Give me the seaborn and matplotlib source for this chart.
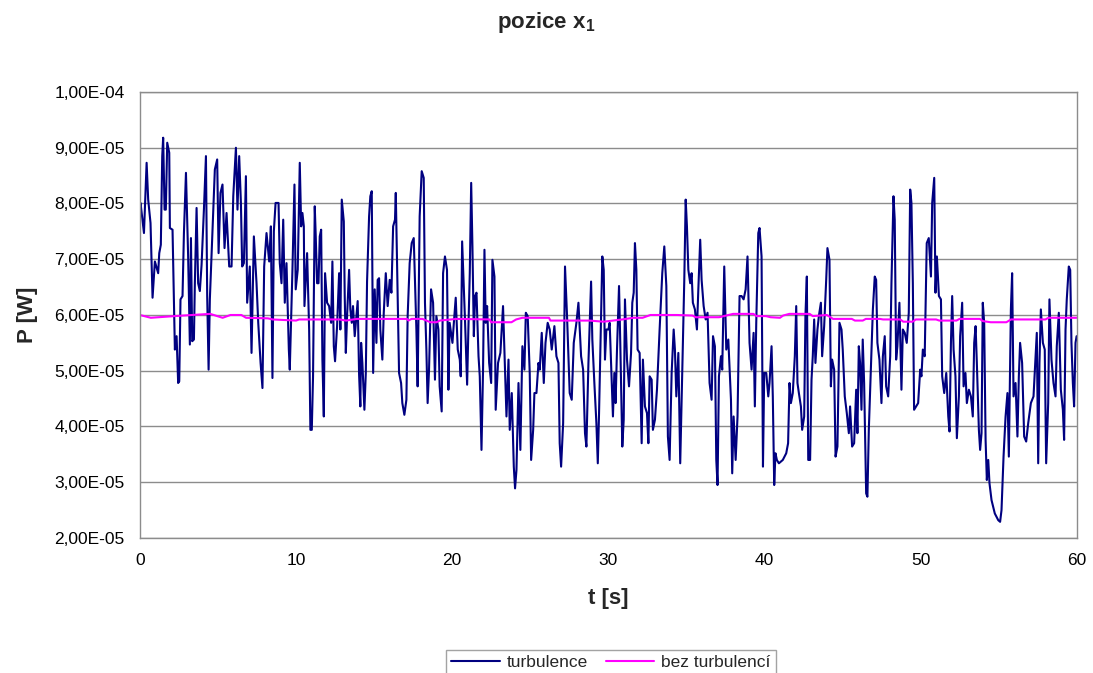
import numpy as np
import pandas as pd
import matplotlib
matplotlib.use("Agg")
import matplotlib.pyplot as plt
import seaborn as sns
from matplotlib.ticker import FuncFormatter, MultipleLocator

# turbulence series: time [s] and power in units of 1e-5 W
t_turb = [
    0.00, 0.04, 0.26, 0.43, 0.53, 0.68, 0.81, 0.96, 1.17, 1.24, 1.34, 1.43, 1.49, 1.58, 1.66, 1.75, 1.88, 1.92,
    2.09, 2.24, 2.35, 2.45, 2.52, 2.60, 2.73, 2.82, 2.95, 3.09, 3.20, 3.27, 3.35, 3.46, 3.52, 3.63, 3.73, 3.84,
    3.95, 4.10, 4.23, 4.31, 4.40, 4.48, 4.65, 4.80, 4.95, 5.04, 5.16, 5.29, 5.42, 5.55, 5.72, 5.87, 5.98, 6.15,
    6.25, 6.36, 6.47, 6.55, 6.66, 6.79, 6.87, 7.04, 7.15, 7.30, 7.47, 7.58, 7.73, 7.85, 7.96, 8.11, 8.28, 8.39,
    8.49, 8.58, 8.69, 8.88, 8.96, 9.07, 9.18, 9.28, 9.39, 9.54,
    9.60, 9.77, 9.90, 9.98, 10.11, 10.24, 10.33, 10.41, 10.50, 10.54, 10.71, 10.84, 10.92, 11.01, 11.09, 11.20,
    11.26, 11.35, 11.44, 11.52, 11.61, 11.69, 11.78, 11.86, 11.99, 12.12, 12.25, 12.33, 12.42, 12.50, 12.63,
    12.76, 12.84, 12.93, 13.06, 13.12, 13.19, 13.27, 13.40, 13.48, 13.57, 13.65, 13.76, 13.87, 13.95, 14.04,
    14.12, 14.17, 14.25, 14.38, 14.47, 14.55, 14.68, 14.76, 14.85, 14.94, 15.04, 15.15, 15.23, 15.32, 15.40,
    15.53, 15.62, 15.75, 15.87, 16.00, 16.11, 16.22, 16.34, 16.39, 16.47, 16.60, 16.73, 16.81, 16.94, 17.07,
    17.15, 17.28, 17.41, 17.54, 17.62, 17.71, 17.79, 17.92, 18.05, 18.18, 18.26, 18.35, 18.43, 18.52, 18.65,
    18.78, 18.90, 18.99, 19.12, 19.20, 19.33, 19.42, 19.54, 19.67, 19.76, 19.84,
    20.02, 20.11, 20.23, 20.36, 20.49, 20.55, 20.64, 20.75, 20.83, 20.96, 21.04, 21.13, 21.22, 21.30, 21.39,
    21.47, 21.56, 21.69, 21.77, 21.88, 21.98, 22.07, 22.15, 22.24, 22.37, 22.50, 22.58, 22.71, 22.79, 22.94,
    23.09, 23.26, 23.39, 23.48, 23.61, 23.69, 23.82, 23.95, 24.03, 24.12, 24.25, 24.37, 24.50, 24.63, 24.72,
    24.84, 24.97, 25.06, 25.19, 25.27, 25.40, 25.53, 25.61, 25.74, 25.87, 25.98, 26.12, 26.25, 26.38, 26.55,
    26.68, 26.81, 26.89, 26.98, 27.11, 27.23, 27.36, 27.53, 27.66, 27.79, 27.96, 28.09, 28.26, 28.39, 28.51,
    28.60, 28.73, 28.90, 28.98, 29.11, 29.24, 29.33, 29.41, 29.56, 29.62, 29.71, 29.79, 29.88, 30.01, 30.09,
    30.22, 30.30, 30.39, 30.47, 30.56, 30.69, 30.77, 30.90, 30.99, 31.07, 31.20, 31.33, 31.46, 31.54, 31.63,
    31.71, 31.80, 31.88, 32.01, 32.14, 32.22, 32.35, 32.48, 32.57, 32.65, 32.78, 32.86, 32.99, 33.12, 33.29,
    33.46, 33.59, 33.72, 33.82, 33.93, 34.06, 34.19, 34.27, 34.36, 34.49, 34.61, 34.74, 34.87, 34.96, 35.04,
    35.13, 35.25, 35.34, 35.42, 35.55, 35.68, 35.77, 35.89, 35.98, 36.11, 36.24, 36.36, 36.49, 36.62, 36.71,
    36.83, 36.92, 37.00, 37.09, 37.22, 37.30, 37.43, 37.56, 37.69, 37.86, 37.94, 38.03, 38.16, 38.28, 38.41,
    38.54, 38.67, 38.80, 38.92, 39.05, 39.18, 39.31, 39.39, 39.48, 39.61, 39.69, 39.82, 39.91, 39.99, 40.12,
    40.25, 40.33,
    40.46, 40.54, 40.63, 40.71, 40.80, 40.93, 41.18, 41.40, 41.52, 41.61, 41.70, 41.82, 41.95, 42.04, 42.12,
    42.21, 42.34, 42.42, 42.55, 42.63, 42.72, 42.81, 42.93, 43.02, 43.10, 43.19, 43.27, 43.40, 43.49, 43.62,
    43.70, 43.83, 43.96, 44.04, 44.17, 44.26, 44.34, 44.47, 44.56, 44.68, 44.81, 44.94, 45.02, 45.15, 45.28,
    45.41, 45.49, 45.62, 45.75, 45.88, 45.96, 46.05, 46.13, 46.22, 46.30, 46.39, 46.52, 46.60, 46.69, 46.82,
    46.95, 47.07, 47.16, 47.24, 47.37, 47.50, 47.59, 47.71, 47.80, 47.93, 48.06, 48.14, 48.27, 48.35, 48.44,
    48.52, 48.65, 48.78, 48.87, 48.99, 49.12, 49.25, 49.34, 49.42, 49.51, 49.59, 49.72, 49.85, 49.98, 50.06,
    50.15, 50.27, 50.40, 50.53,
    50.67, 50.75, 50.88, 50.96, 51.05, 51.18, 51.31, 51.39, 51.52, 51.65, 51.78, 51.86, 51.95, 52.03, 52.12,
    52.24, 52.33, 52.46, 52.54, 52.67, 52.76, 52.88, 52.97, 53.10, 53.23, 53.35, 53.44, 53.53, 53.61, 53.74,
    53.82, 53.91, 53.99, 54.08, 54.17, 54.25, 54.34, 54.42, 54.55, 54.76, 54.98, 55.10, 55.19, 55.32, 55.45,
    55.57, 55.66, 55.79, 55.87, 55.96, 56.09, 56.21, 56.30, 56.38, 56.51, 56.64, 56.77, 56.90, 57.07, 57.24,
    57.37, 57.45, 57.54, 57.62, 57.71, 57.84, 57.96, 58.05, 58.18, 58.26, 58.39, 58.52, 58.65, 58.73, 58.86,
    58.99, 59.12, 59.20, 59.29, 59.37, 59.50, 59.59, 59.67, 59.76, 59.84, 59.93, 60.00,
]
p_turb_e5 = [
    7.95, 8.01, 7.47, 8.73, 8.07, 7.65, 6.31, 6.96, 6.75, 7.11, 7.26, 8.85, 9.18, 7.89, 7.89, 9.09, 8.91, 7.56,
    7.53, 5.38, 5.62, 4.78, 4.81, 6.28, 6.34, 7.47, 8.55, 7.05, 5.47, 7.38, 5.53, 5.56, 6.57, 7.92, 6.57, 6.43,
    6.90, 7.89, 8.85, 6.34, 5.02, 6.28, 7.53, 8.61, 8.79, 7.11, 8.19, 8.34, 7.20, 7.83, 6.87, 6.87, 8.13, 9.00,
    7.89, 8.85, 8.01, 6.87, 6.93, 8.49, 6.22, 6.87, 5.32, 7.41, 6.57, 5.86, 5.14, 4.69, 6.87, 7.47, 6.96, 7.59,
    4.87, 7.50, 8.01, 8.01, 6.93, 6.57, 7.71, 6.22, 6.93, 5.38,
    5.02, 6.81, 8.34, 6.46, 6.81, 8.73, 7.59, 7.83, 7.59, 6.16, 7.11, 5.74, 3.94, 3.94, 4.90, 7.95,
    7.44, 6.57, 6.57, 7.41, 7.53, 5.20, 4.18, 6.75, 6.22, 6.16, 5.86, 6.96, 5.44, 5.17, 5.80,
    6.75, 5.74, 8.07, 7.68, 6.34, 5.32, 5.98, 6.81, 6.10, 5.86, 6.16, 5.62, 5.98, 6.25, 4.93,
    4.36, 5.50, 5.14, 4.30, 4.96, 6.60, 7.77, 8.13, 8.22, 4.96, 6.46, 5.50, 6.63, 6.66, 5.74,
    5.20, 6.04, 6.75, 6.16, 6.63, 6.40, 7.59, 7.71, 8.19, 6.93, 4.96, 4.78, 4.42, 4.21, 4.48,
    5.98, 6.93, 7.29, 7.38, 6.63, 5.74, 4.72, 7.77, 8.58, 8.46, 6.22, 5.38, 4.42, 5.02, 6.46,
    6.22, 4.84, 5.98, 5.74, 4.72, 4.27, 6.75, 7.05, 6.81, 4.66, 5.86,
    5.50, 5.86, 6.31, 5.38, 5.20, 4.90, 7.32, 6.46, 5.86, 4.75, 5.74, 6.75, 8.37, 7.23, 5.62,
    6.34, 6.40, 5.26, 4.90, 3.58, 5.02, 7.17, 5.86, 6.16, 5.14, 4.78, 6.99, 6.69, 4.30, 5.14,
    5.32, 6.16, 5.02, 4.18, 5.20, 3.94, 4.60, 3.28, 2.89, 3.22, 4.78, 3.58, 5.44, 5.02, 6.04,
    5.98, 4.96, 3.40, 3.94, 4.60, 4.60, 5.14, 5.02, 5.68, 4.78, 5.50, 5.86, 5.74, 5.38, 5.80,
    5.26, 5.14, 3.70, 3.28, 4.06, 6.87, 5.98, 4.60, 4.48, 5.50, 5.86, 6.22, 5.26, 5.02, 3.88,
    3.64, 5.14, 6.60, 5.56, 4.78, 4.06, 3.34, 4.24, 6.22, 7.05, 6.81, 5.20, 5.74, 5.74, 5.86,
    4.84, 4.18, 4.96, 4.42, 5.38, 6.52, 5.50, 3.64, 4.12, 6.28, 5.20, 4.72, 5.32, 6.22, 6.40,
    7.29, 6.81, 5.38, 5.32, 3.70, 5.20, 4.36, 4.24, 3.70, 4.90, 4.84, 3.94, 4.12, 4.66, 5.74,
    6.75, 7.23, 6.52, 3.82, 3.40, 4.96, 5.74, 5.38, 4.54, 5.32, 3.34, 5.02, 6.63, 8.07, 7.59,
    6.81, 6.57, 6.75, 6.22, 6.10, 5.74, 6.46, 7.35, 6.63, 6.16, 5.92, 6.04, 4.78, 4.48, 5.62,
    5.44, 3.40, 2.95, 4.90, 5.26, 5.02, 6.87, 5.38, 5.56, 4.48, 3.16, 4.18, 3.40, 4.18, 6.34,
    6.34, 6.28, 6.46, 7.05, 5.50, 5.02, 5.68, 4.36, 5.86, 7.47, 7.56, 7.05, 3.28, 4.96, 4.96,
    4.54, 4.78,
    5.44, 4.54, 2.95, 3.52, 3.40, 3.34, 3.40, 3.52, 3.70, 4.78, 4.42, 4.60, 5.26, 6.16, 4.78,
    4.60, 4.36, 3.94, 4.18, 5.98, 6.69, 3.40, 3.40, 4.84, 5.26, 5.92, 5.14, 5.74, 5.98, 6.22,
    5.26, 5.80, 6.63, 7.20, 6.99, 4.72, 5.20, 5.02, 3.46, 3.64, 5.86, 5.74, 5.38, 4.54, 4.24,
    3.88, 4.36, 3.64, 3.70, 4.66, 3.88, 5.44, 5.14, 4.30, 5.56, 4.78, 2.80, 2.74, 3.94, 5.02,
    6.10, 6.69, 6.63, 5.50, 5.20, 4.42, 5.26, 5.62, 4.72, 4.54, 5.26, 6.57, 8.13, 7.71, 5.20,
    5.44, 6.22, 4.66, 5.74, 5.68, 5.50, 6.04, 8.25, 8.01, 6.57, 4.30, 4.36, 4.42, 5.02, 4.90,
    5.38, 5.26, 7.29, 7.38,
    6.69, 8.01, 8.46, 6.40, 7.05, 6.34, 6.28, 4.90, 4.60, 4.96, 4.18, 3.91, 5.50, 6.34, 5.38,
    4.90, 3.79, 4.54, 5.62, 6.22, 4.72, 4.96, 4.42, 4.66, 4.54, 4.18, 5.50, 5.80, 5.14, 3.94,
    3.58, 3.88, 6.22, 5.86, 3.76, 3.04, 3.40, 2.98, 2.68, 2.44, 2.32, 2.29, 2.50, 3.46, 4.18,
    4.60, 3.46, 6.10, 6.75, 4.54, 4.78, 3.82, 4.90, 5.50, 5.14, 3.82, 3.73, 4.06, 4.42, 4.54,
    5.26, 5.68, 3.34, 5.14, 6.10, 5.50, 5.38, 3.34, 4.42, 6.28, 5.20, 4.78, 4.54, 5.44, 6.04,
    4.66, 4.30, 3.76, 5.74, 6.28, 6.87, 6.81, 5.50, 4.78, 4.36, 5.50, 5.62,
]

# reference without turbulence (1e-5 W)
t_ref = [
    0.0, 0.7, 2.2, 4.5, 5.3, 5.8, 6.5, 6.8, 8.2, 8.5, 10.0, 10.2, 12.8, 13.2, 13.9, 17.1, 17.2, 17.4, 18.1, 18.6,
    19.0, 19.2, 20.3, 22.4, 22.5, 23.8, 24.1, 24.5, 26.2, 26.3, 28.8, 29.7, 30.3, 30.9, 31.6, 32.2, 32.7, 34.4,
    35.4, 35.6, 37.1, 37.4, 38.0, 39.3, 39.5, 40.1, 40.4, 41.0, 41.2, 41.6, 42.9, 43.1, 44.0, 44.4, 45.6, 45.8,
    46.3, 46.5, 47.4, 47.6, 48.7, 48.9, 49.5, 49.7, 51.0, 51.2, 52.3, 52.5, 53.8, 54.0, 54.5, 55.5, 55.8, 58.0,
    58.2, 60.0,
]
p_ref_e5 = [
    6.00, 5.95, 5.98, 6.02, 5.95, 6.00, 6.00, 5.95, 5.94, 5.92, 5.90, 5.92, 5.92, 5.90, 5.93, 5.93, 5.90, 5.93,
    5.93, 5.87, 5.87, 5.90, 5.93, 5.92, 5.87, 5.87, 5.92, 5.95, 5.95, 5.90, 5.90, 5.88, 5.90, 5.92, 5.95, 5.95,
    6.00, 6.00, 5.99, 5.96, 5.96, 5.98, 6.02, 6.02, 5.98, 5.98, 5.96, 5.95, 5.99, 6.02, 6.02, 5.98, 6.00, 5.93,
    5.93, 5.90, 5.90, 5.93, 5.93, 5.92, 5.92, 5.88, 5.88, 5.92, 5.92, 5.90, 5.90, 5.93, 5.93, 5.89, 5.87, 5.87,
    5.92, 5.92, 5.95, 5.95,
]

series_names = ["turbulence", "bez turbulencí"]
series_colors = {"turbulence": "#000080", "bez turbulencí": "#FF00FF"}

df = pd.concat([
    pd.DataFrame({"t": t_turb, "P": np.array(p_turb_e5) * 1e-5, "series": series_names[0]}),
    pd.DataFrame({"t": t_ref, "P": np.array(p_ref_e5) * 1e-5, "series": series_names[1]}),
], ignore_index=True)

sns.set_theme(style="white")
plt.rcParams["font.family"] = ["Liberation Sans", "DejaVu Sans"]
plt.rcParams["mathtext.fontset"] = "custom"
plt.rcParams["mathtext.bf"] = "Liberation Sans:bold"
plt.rcParams["mathtext.rm"] = "Liberation Sans"

fig = plt.figure(figsize=(10.93, 6.73), dpi=100)
ax = fig.add_axes([0.128, 0.2006, 0.857, 0.6627])

sns.lineplot(data=df, x="t", y="P", hue="series", hue_order=series_names,
             palette=series_colors, estimator=None, linewidth=1.5, ax=ax, legend=False)

ax.set_xlim(0, 60)
ax.set_ylim(2e-5, 1e-4)
ax.xaxis.set_major_locator(MultipleLocator(10))
ax.yaxis.set_major_locator(MultipleLocator(1e-5))
ax.yaxis.set_major_formatter(FuncFormatter(lambda v, pos: f"{v:.2E}".replace(".", ",")))
ax.grid(axis="y", color="#8c8c8c", linewidth=1.0)
ax.grid(axis="x", visible=False)
for side in ax.spines.values():
    side.set_color("#8c8c8c")
    side.set_linewidth(1.0)
ax.tick_params(axis="both", direction="out", length=5, width=1, color="#8c8c8c",
               labelsize=12.5, labelcolor="black", pad=6)

ax.set_xlabel("t [s]", fontsize=16, fontweight="bold", labelpad=14)
ax.set_ylabel("P [W]", fontsize=16, fontweight="bold", labelpad=12)
fig.text(0.5, 0.967, r"pozice x$_\mathbf{1}$", ha="center", va="center", fontsize=16, fontweight="bold")

handles = [plt.Line2D([], [], color=series_colors[n], linewidth=1.5) for n in series_names]
leg = fig.legend(handles, series_names, loc="upper center", bbox_to_anchor=(0.559, 0.047), ncol=2,
                 fontsize=12.5, frameon=True, fancybox=False, edgecolor="#8c8c8c",
                 handlelength=2.8, handletextpad=0.4, columnspacing=1.0, borderpad=0.3)
leg.get_frame().set_linewidth(1.0)

fig.savefig("out.png", dpi=100)
